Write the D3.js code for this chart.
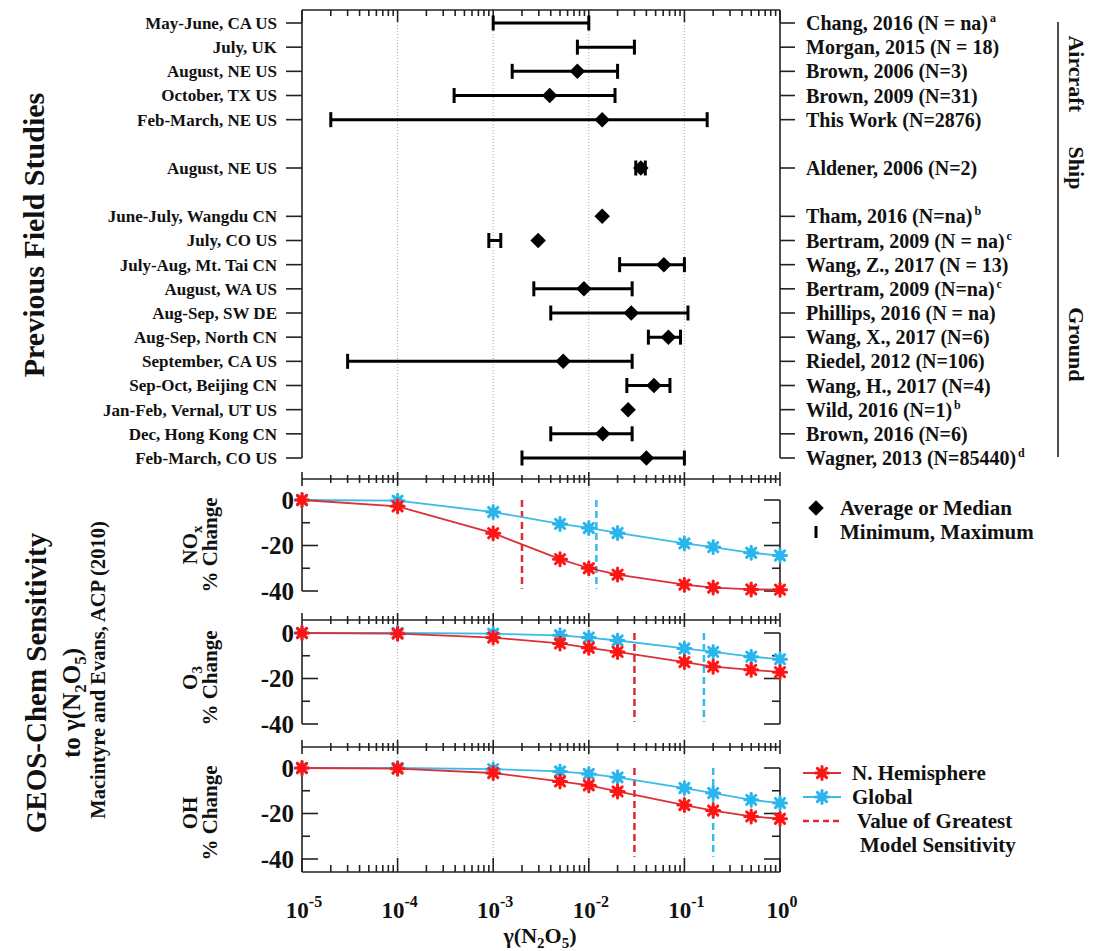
<!DOCTYPE html>
<html>
<head>
<meta charset="utf-8">
<script src="https://cdn.jsdelivr.net/npm/d3@7"></script>
<style>
  html, body { margin: 0; padding: 0; background: #fff; }
  svg { display: block; }
  text { font-family: "Liberation Serif", "Times New Roman", serif; font-weight: bold; fill: #111; }
</style>
</head>
<body>
<svg id="chart" width="1101" height="951"></svg>
<script>
// ---------------- data ----------------
const sites = ["May-June, CA US","July, UK","August, NE US","October, TX US","Feb-March, NE US",
  "August, NE US","June-July, Wangdu CN","July, CO US","July-Aug, Mt. Tai CN","August, WA US",
  "Aug-Sep, SW DE","Aug-Sep, North CN","September, CA US","Sep-Oct, Beijing CN",
  "Jan-Feb, Vernal, UT US","Dec, Hong Kong CN","Feb-March, CO US"];
const refs = ["Chang, 2016 (N = na)","Morgan, 2015 (N = 18)","Brown, 2006 (N=3)","Brown, 2009 (N=31)",
  "This Work (N=2876)","Aldener, 2006 (N=2)","Tham, 2016 (N=na)","Bertram, 2009 (N = na)",
  "Wang, Z., 2017 (N = 13)","Bertram, 2009 (N=na)","Phillips, 2016 (N = na)","Wang, X., 2017 (N=6)",
  "Riedel, 2012 (N=106)","Wang, H., 2017 (N=4)","Wild, 2016 (N=1)","Brown, 2016 (N=6)","Wagner, 2013 (N=85440)"];
const refNotes = ["a","","","","","","b","c","","c","","","","","b","","d"];
const rowSlot = [0,1,2,3,4,6,8,9,10,11,12,13,14,15,16,17,18];
const gammaAvg = [null,null,7.6e-3,3.9e-3,0.0138,0.035,0.0138,2.95e-3,0.061,8.9e-3,0.0278,0.068,5.4e-3,0.048,0.0258,0.014,0.040];
const gammaMin = [1e-3,7.6e-3,1.58e-3,3.9e-4,2e-5,0.031,null,9e-4,0.021,2.66e-3,4e-3,0.042,3e-5,0.025,null,4e-3,2e-3];
const gammaMax = [1e-2,0.03,0.02,0.0188,0.173,0.039,null,1.2e-3,0.1,0.0284,0.109,0.091,0.0284,0.0706,null,0.0284,0.1];
const groups = ["Aircraft","Ship","Ground"];
const groupCenterSlot = [2.1,6,13.3];

const gammaModel = [1e-5,1e-4,1e-3,5e-3,1e-2,2e-2,0.1,0.2,0.5,1];
const noxNH     = [0,-2.8,-14.6,-26,-30,-32.8,-37.2,-38.5,-39.3,-39.4];
const noxGlobal = [0,-0.3,-5.3,-10.5,-12.3,-14.5,-19.1,-20.7,-23.2,-24.4];
const o3NH      = [0,-0.3,-2,-4.6,-6.5,-8.3,-12.8,-14.8,-16.2,-17.2];
const o3Global  = [0,0,-0.3,-1,-2,-3.3,-6.8,-8.3,-10.4,-11.5];
const ohNH      = [0,-0.3,-2.2,-5.9,-7.6,-10.3,-16.3,-18.7,-21.3,-22.3];
const ohGlobal  = [0,0,-0.5,-1.5,-2.6,-4.1,-8.8,-11,-14,-15.4];
const maxSensNH     = [2e-3, 0.03, 0.03];
const maxSensGlobal = [0.012, 0.16, 0.2];
const yTicksMajor = [0,-20,-40];
const yTicksMinor = [-10,-30];
const xDecades = [1e-5,1e-4,1e-3,1e-2,1e-1,1];
const xExponents = ["-5","-4","-3","-2","-1","0"];

// ---------------- setup ----------------
const RED = "#ff1515", REDLINE = "#dc3038", BLUE = "#2ab6ec", BLUELINE = "#3bbbe8";
const svg = d3.select("#chart");
const X0 = 302, X1 = 780;
const x = d3.scaleLog().domain([1e-5, 1]).range([X0, X1]);
const slotY = d3.scaleLinear().domain([0, 18]).range([23, 458]);
const minorTicks = [];
for (let d = -5; d < 0; d++) for (let m = 2; m <= 9; m++) minorTicks.push(m * Math.pow(10, d));

// grid lines
svg.append("g").selectAll("line").data(xDecades.slice(1, 5)).join("line")
  .attr("x1", d => x(d)).attr("x2", d => x(d)).attr("y1", 10).attr("y2", 872)
  .attr("stroke", "#a8a8a8").attr("stroke-width", 1).attr("stroke-dasharray", "1,2");

// ---------------- top panel ----------------
const topG = svg.append("g");
const ax = topG.append("g").attr("stroke", "#222").attr("stroke-width", 1.6);
ax.append("line").attr("x1", X0).attr("x2", X1).attr("y1", 10).attr("y2", 10);
ax.append("line").attr("x1", X0).attr("x2", X0).attr("y1", 10).attr("y2", slotY(18));
ax.append("line").attr("x1", X1).attr("x2", X1).attr("y1", 10).attr("y2", slotY(18));
ax.selectAll(".tmj").data(xDecades).join("line").attr("x1", d => x(d)).attr("x2", d => x(d)).attr("y1", 10).attr("y2", 22);
ax.selectAll(".tmn").data(minorTicks).join("line").attr("x1", d => x(d)).attr("x2", d => x(d)).attr("y1", 10).attr("y2", 16);
ax.selectAll(".lt").data(rowSlot).join("line").attr("x1", X0 - 16).attr("x2", X0).attr("y1", d => slotY(d)).attr("y2", d => slotY(d));
ax.selectAll(".rt").data(rowSlot).join("line").attr("x1", X1).attr("x2", X1 + 15).attr("y1", d => slotY(d)).attr("y2", d => slotY(d));

// labels
topG.selectAll(".site").data(sites).join("text")
  .attr("x", 277).attr("y", (d, i) => slotY(rowSlot[i])).attr("dy", "0.35em")
  .attr("text-anchor", "end").attr("font-size", 17).text(d => d);
const rt = topG.selectAll(".ref").data(refs).join("text")
  .attr("x", 806).attr("y", (d, i) => slotY(rowSlot[i])).attr("dy", "0.35em")
  .attr("font-size", 20);
rt.append("tspan").text(d => d);
rt.append("tspan").attr("dy", -8).attr("dx", 2).attr("font-size", 12).text((d, i) => refNotes[i]);

// error bars
const bars = sites.map((s, i) => i).filter(i => gammaMin[i] !== null);
const eb = topG.append("g").attr("stroke", "#000").attr("stroke-width", 3);
eb.selectAll(".bar").data(bars).join("line")
  .attr("x1", i => x(gammaMin[i])).attr("x2", i => x(gammaMax[i]))
  .attr("y1", i => slotY(rowSlot[i])).attr("y2", i => slotY(rowSlot[i]));
eb.selectAll(".capL").data(bars).join("line")
  .attr("x1", i => x(gammaMin[i])).attr("x2", i => x(gammaMin[i]))
  .attr("y1", i => slotY(rowSlot[i]) - 7.5).attr("y2", i => slotY(rowSlot[i]) + 7.5);
eb.selectAll(".capR").data(bars).join("line")
  .attr("x1", i => x(gammaMax[i])).attr("x2", i => x(gammaMax[i]))
  .attr("y1", i => slotY(rowSlot[i]) - 7.5).attr("y2", i => slotY(rowSlot[i]) + 7.5);
const pts = sites.map((s, i) => i).filter(i => gammaAvg[i] !== null);
topG.selectAll(".pt").data(pts).join("path")
  .attr("d", d3.symbol().type(d3.symbolSquare).size(120))
  .attr("transform", i => `translate(${x(gammaAvg[i])},${slotY(rowSlot[i])}) rotate(45)`)
  .attr("fill", "#000");

// group bracket
svg.append("line").attr("x1", 1058).attr("x2", 1058).attr("y1", 22).attr("y2", 457).attr("stroke", "#222").attr("stroke-width", 1.6);
groups.forEach((g, i) => {
  svg.append("text").attr("transform", `translate(1069,${slotY(groupCenterSlot[i])}) rotate(90)`)
    .attr("text-anchor", "middle").attr("font-size", 22).text(g);
});
svg.append("text").attr("transform", "translate(44,235) rotate(-90)").attr("text-anchor", "middle")
  .attr("font-size", 30).text("Previous Field Studies");

// top legend
svg.append("path").attr("d", d3.symbol().type(d3.symbolSquare).size(120)).attr("transform", "translate(816,508) rotate(45)").attr("fill", "#000");
svg.append("line").attr("x1", 816).attr("x2", 816).attr("y1", 526).attr("y2", 538).attr("stroke", "#000").attr("stroke-width", 3);
svg.append("text").attr("x", 840).attr("y", 508).attr("dy", "0.35em").attr("font-size", 21).text("Average or Median");
svg.append("text").attr("x", 840).attr("y", 532).attr("dy", "0.35em").attr("font-size", 21).text("Minimum, Maximum");

// ---------------- lower panels ----------------
function star(g, cx, cy, color) {
  const s = g.append("g").attr("transform", `translate(${cx},${cy})`);
  s.append("circle").attr("r", 4.5).attr("fill", color);
  for (let k = 0; k < 8; k++) {
    const a = k * Math.PI / 4;
    s.append("line").attr("x1", 0).attr("y1", 0).attr("x2", 6.5 * Math.cos(a)).attr("y2", 6.5 * Math.sin(a))
      .attr("stroke", color).attr("stroke-width", 3).attr("stroke-linecap", "round");
  }
}
const panels = [
  { name: "NO", sub: "x", top: 479, y0: 500, nh: noxNH, gl: noxGlobal, bottom: null, idx: 0 },
  { name: "O", sub: "3", top: 620, y0: 633, nh: o3NH, gl: o3Global, bottom: null, idx: 1 },
  { name: "OH", sub: "", top: 747, y0: 768, nh: ohNH, gl: ohGlobal, bottom: 872, idx: 2 }
];
panels.forEach(p => {
  const y = d3.scaleLinear().domain([0, -40]).range([p.y0, p.y0 + 91]);
  const g = svg.append("g");
  const a = g.append("g").attr("stroke", "#222").attr("stroke-width", 1.6);
  a.append("line").attr("x1", X0).attr("x2", X1).attr("y1", p.top).attr("y2", p.top);
  a.selectAll(".mj").data(xDecades).join("line").attr("x1", d => x(d)).attr("x2", d => x(d)).attr("y1", p.top - 7).attr("y2", p.top + 7);
  a.selectAll(".mn").data(minorTicks).join("line").attr("x1", d => x(d)).attr("x2", d => x(d)).attr("y1", p.top - 4).attr("y2", p.top + 4);
  const yb = p.bottom ? p.bottom : y(-40);
  a.append("line").attr("x1", X0).attr("x2", X0).attr("y1", y(0)).attr("y2", yb);
  a.append("line").attr("x1", X1).attr("x2", X1).attr("y1", y(0)).attr("y2", yb);
  a.selectAll(".ylm").data(yTicksMajor).join("line").attr("x1", X0).attr("x2", X0 + 16).attr("y1", d => y(d)).attr("y2", d => y(d));
  a.selectAll(".yln").data(yTicksMinor).join("line").attr("x1", X0).attr("x2", X0 + 8).attr("y1", d => y(d)).attr("y2", d => y(d));
  a.selectAll(".yrm").data(yTicksMajor).join("line").attr("x1", X1 - 16).attr("x2", X1).attr("y1", d => y(d)).attr("y2", d => y(d));
  a.selectAll(".yrn").data(yTicksMinor).join("line").attr("x1", X1 - 8).attr("x2", X1).attr("y1", d => y(d)).attr("y2", d => y(d));
  if (p.bottom) {
    a.append("line").attr("x1", X0).attr("x2", X1).attr("y1", p.bottom).attr("y2", p.bottom);
    a.selectAll(".bmj").data(xDecades).join("line").attr("x1", d => x(d)).attr("x2", d => x(d)).attr("y1", p.bottom - 14).attr("y2", p.bottom);
    a.selectAll(".bmn").data(minorTicks).join("line").attr("x1", d => x(d)).attr("x2", d => x(d)).attr("y1", p.bottom - 7).attr("y2", p.bottom);
  }
  g.selectAll(".yl").data(yTicksMajor).join("text").attr("x", 294).attr("y", d => y(d)).attr("dy", "0.35em")
    .attr("text-anchor", "end").attr("font-size", 25).text(d => d === 0 ? "0" : "-" + Math.abs(d));
  // dashed max sensitivity
  g.append("line").attr("x1", x(maxSensNH[p.idx])).attr("x2", x(maxSensNH[p.idx])).attr("y1", y(0)).attr("y2", y(-39))
    .attr("stroke", "#dc2a36").attr("stroke-width", 2.5).attr("stroke-dasharray", "7,4");
  g.append("line").attr("x1", x(maxSensGlobal[p.idx])).attr("x2", x(maxSensGlobal[p.idx])).attr("y1", y(0)).attr("y2", y(-39))
    .attr("stroke", "#33bbee").attr("stroke-width", 2.5).attr("stroke-dasharray", "7,4");
  const line = d3.line().x((d, i) => x(gammaModel[i])).y(d => y(d));
  g.append("path").attr("d", line(p.gl)).attr("fill", "none").attr("stroke", BLUELINE).attr("stroke-width", 1.8);
  g.append("path").attr("d", line(p.nh)).attr("fill", "none").attr("stroke", REDLINE).attr("stroke-width", 1.8);
  p.gl.forEach((v, i) => star(g, x(gammaModel[i]), y(v), BLUE));
  p.nh.forEach((v, i) => star(g, x(gammaModel[i]), y(v), RED));
  // panel label
  const cy = p.y0 + 45;
  const t1 = g.append("text").attr("transform", `translate(197,${cy}) rotate(-90)`).attr("text-anchor", "middle").attr("font-size", 21);
  t1.append("tspan").text(p.name);
  if (p.sub) t1.append("tspan").attr("dy", 5).attr("font-size", 15).text(p.sub);
  g.append("text").attr("transform", `translate(217,${cy}) rotate(-90)`).attr("text-anchor", "middle").attr("font-size", 21).text("% Change");
});

// left group title
svg.append("text").attr("transform", "translate(46,683) rotate(-90)").attr("text-anchor", "middle").attr("font-size", 29).text("GEOS-Chem Sensitivity");
const tg = svg.append("text").attr("transform", "translate(80,703) rotate(-90)").attr("text-anchor", "middle").attr("font-size", 25);
tg.append("tspan").text("to γ(N");
tg.append("tspan").attr("dy", 6).attr("font-size", 17).text("2");
tg.append("tspan").attr("dy", -6).text("O");
tg.append("tspan").attr("dy", 6).attr("font-size", 17).text("5");
tg.append("tspan").attr("dy", -6).text(")");
svg.append("text").attr("transform", "translate(105,670) rotate(-90)").attr("text-anchor", "middle").attr("font-size", 20.5).text("Macintyre and Evans, ACP (2010)");

// x axis labels
const xl = svg.append("g").selectAll("text").data(xDecades).join("text")
  .attr("x", d => x(d) + 2).attr("y", 918).attr("text-anchor", "middle").attr("font-size", 23);
xl.append("tspan").text("10");
xl.append("tspan").attr("dy", -11).attr("font-size", 16).text((d, i) => xExponents[i]);
const xt = svg.append("text").attr("x", 540).attr("y", 943).attr("text-anchor", "middle").attr("font-size", 22);
xt.append("tspan").text("γ(N");
xt.append("tspan").attr("dy", 5).attr("font-size", 15).text("2");
xt.append("tspan").attr("dy", -5).text("O");
xt.append("tspan").attr("dy", 5).attr("font-size", 15).text("5");
xt.append("tspan").attr("dy", -5).text(")");

// bottom legend
const lg = svg.append("g");
lg.append("line").attr("x1", 803).attr("x2", 841).attr("y1", 773).attr("y2", 773).attr("stroke", REDLINE).attr("stroke-width", 1.8);
star(lg, 822, 773, RED);
lg.append("line").attr("x1", 803).attr("x2", 841).attr("y1", 797).attr("y2", 797).attr("stroke", BLUELINE).attr("stroke-width", 1.8);
star(lg, 822, 797, BLUE);
lg.append("line").attr("x1", 803).attr("x2", 841).attr("y1", 821).attr("y2", 821).attr("stroke", "#dc2a36").attr("stroke-width", 2.5).attr("stroke-dasharray", "6,4");
lg.append("text").attr("x", 852).attr("y", 773).attr("dy", "0.35em").attr("font-size", 21).text("N. Hemisphere");
lg.append("text").attr("x", 852).attr("y", 797).attr("dy", "0.35em").attr("font-size", 21).text("Global");
lg.append("text").attr("x", 857).attr("y", 821).attr("dy", "0.35em").attr("font-size", 21).text("Value of Greatest");
lg.append("text").attr("x", 860).attr("y", 845).attr("dy", "0.35em").attr("font-size", 21).text("Model Sensitivity");
</script>
</body>
</html>
